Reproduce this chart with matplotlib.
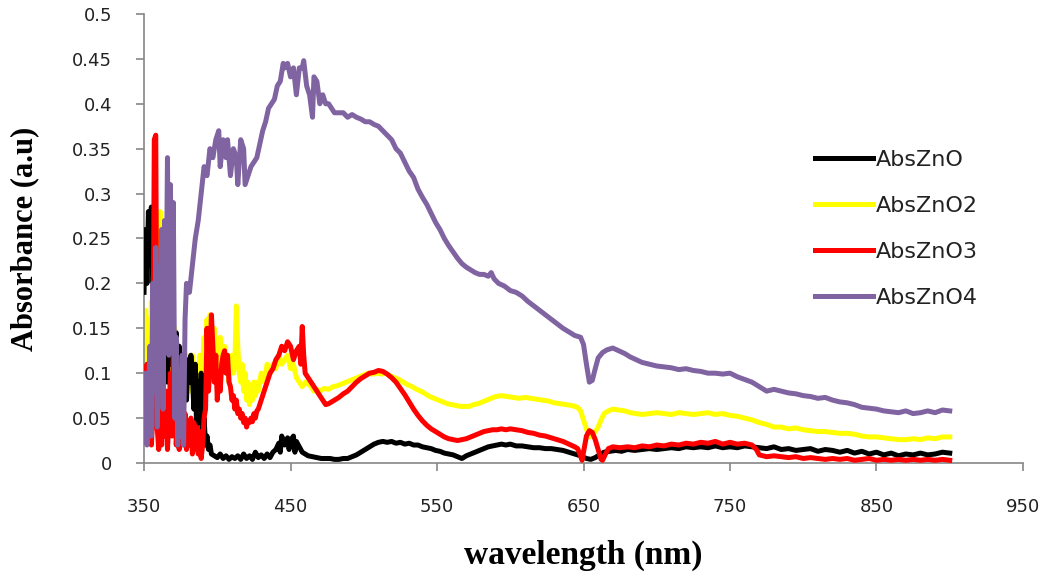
import matplotlib
matplotlib.use("Agg")
from matplotlib import pyplot as plt

# (wavelength nm, absorbance)
abs_zno = [
    (350, 0.19), (351, 0.26), (352, 0.20), (353, 0.28), (354, 0.22), (355, 0.285),
    (356, 0.19), (357, 0.17), (358, 0.14), (359, 0.16), (360, 0.13), (361, 0.17),
    (362, 0.12), (363, 0.15), (364, 0.10), (365, 0.14), (366, 0.09), (367, 0.145),
    (368, 0.11), (369, 0.14), (370, 0.12), (371, 0.08), (372, 0.145), (373, 0.10),
    (374, 0.13), (375, 0.07), (376, 0.12), (377, 0.10), (378, 0.11), (379, 0.07),
    (380, 0.115), (381, 0.09), (382, 0.12), (383, 0.10), (384, 0.06), (385, 0.11),
    (386, 0.03), (387, 0.09), (388, 0.045), (389, 0.10), (390, 0.03), (391, 0.05),
    (392, 0.02), (393, 0.03), (394, 0.015), (395, 0.02), (396, 0.01), (398, 0.008),
    (400, 0.006), (402, 0.01), (404, 0.005), (406, 0.008), (408, 0.004), (410, 0.007),
    (412, 0.005), (414, 0.008), (416, 0.004), (418, 0.01), (420, 0.005), (422, 0.008),
    (424, 0.004), (426, 0.012), (428, 0.006), (430, 0.009), (432, 0.005), (434, 0.01),
    (436, 0.006), (438, 0.012), (440, 0.015), (442, 0.022), (443, 0.012), (444, 0.03),
    (446, 0.02), (448, 0.028), (449, 0.015), (450, 0.025), (452, 0.03), (453, 0.012),
    (454, 0.024), (456, 0.018), (458, 0.012), (460, 0.01), (462, 0.008), (465, 0.007),
    (468, 0.006), (471, 0.005), (474, 0.005), (477, 0.005), (480, 0.004), (483, 0.004),
    (486, 0.005), (489, 0.005), (492, 0.007), (495, 0.009), (498, 0.012), (501, 0.015),
    (504, 0.018), (507, 0.021), (510, 0.023), (513, 0.024), (516, 0.023), (519, 0.024),
    (522, 0.022), (525, 0.023), (528, 0.021), (531, 0.022), (534, 0.02), (537, 0.02),
    (540, 0.018), (543, 0.017), (546, 0.016), (549, 0.014), (552, 0.013), (555, 0.011),
    (558, 0.01), (561, 0.009), (564, 0.007), (567, 0.005), (570, 0.008), (573, 0.01),
    (576, 0.012), (579, 0.014), (582, 0.016), (585, 0.018), (588, 0.019), (591, 0.02),
    (594, 0.021), (597, 0.02), (600, 0.021), (604, 0.019), (608, 0.019), (612, 0.018),
    (616, 0.017), (620, 0.017), (624, 0.016), (628, 0.016), (632, 0.015), (636, 0.014),
    (640, 0.012), (644, 0.01), (648, 0.008), (652, 0.005), (655, 0.004), (658, 0.006),
    (661, 0.009), (664, 0.012), (668, 0.013), (672, 0.014), (676, 0.013), (680, 0.015),
    (685, 0.014), (690, 0.015), (695, 0.016), (700, 0.015), (705, 0.016), (710, 0.017),
    (715, 0.016), (720, 0.018), (725, 0.017), (730, 0.018), (735, 0.017), (740, 0.019),
    (745, 0.017), (750, 0.018), (755, 0.017), (760, 0.019), (765, 0.018), (770, 0.017),
    (775, 0.016), (780, 0.018), (785, 0.015), (790, 0.016), (795, 0.014), (800, 0.015),
    (805, 0.016), (810, 0.013), (815, 0.015), (820, 0.014), (825, 0.012), (830, 0.014),
    (835, 0.011), (840, 0.013), (845, 0.01), (850, 0.012), (855, 0.009), (860, 0.011),
    (865, 0.008), (870, 0.01), (875, 0.009), (880, 0.011), (885, 0.009), (890, 0.01),
    (895, 0.012), (900, 0.011),
]

abs_zno2 = [
    (350, 0.10), (351, 0.17), (352, 0.12), (353, 0.16), (354, 0.11), (355, 0.18),
    (356, 0.13), (357, 0.22), (358, 0.15), (359, 0.25), (360, 0.17), (361, 0.28),
    (362, 0.20), (363, 0.16), (364, 0.18), (365, 0.12), (366, 0.17), (367, 0.10),
    (368, 0.14), (369, 0.16), (370, 0.11), (371, 0.15), (372, 0.09), (373, 0.13),
    (374, 0.10), (375, 0.12), (376, 0.07), (377, 0.12), (378, 0.10), (379, 0.12),
    (380, 0.09), (381, 0.11), (382, 0.08), (383, 0.12), (384, 0.10), (385, 0.06),
    (386, 0.11), (387, 0.09), (388, 0.12), (389, 0.085), (390, 0.11), (391, 0.14),
    (392, 0.12), (393, 0.16), (394, 0.13), (395, 0.165), (396, 0.14), (397, 0.12),
    (398, 0.15), (399, 0.10), (400, 0.13), (401, 0.11), (402, 0.14), (403, 0.10),
    (404, 0.12), (405, 0.13), (406, 0.10), (407, 0.12), (408, 0.09), (409, 0.11),
    (410, 0.12), (411, 0.10), (412, 0.11), (413, 0.175), (414, 0.13), (415, 0.10),
    (416, 0.09), (417, 0.11), (418, 0.08), (419, 0.10), (420, 0.07), (421, 0.09),
    (422, 0.065), (423, 0.085), (424, 0.07), (425, 0.09), (426, 0.075), (427, 0.09),
    (428, 0.08), (430, 0.10), (432, 0.09), (434, 0.11), (436, 0.10), (438, 0.11),
    (440, 0.105), (442, 0.12), (444, 0.11), (446, 0.115), (448, 0.12), (450, 0.105),
    (452, 0.11), (454, 0.095), (456, 0.09), (458, 0.085), (460, 0.09), (462, 0.088),
    (464, 0.085), (466, 0.08), (468, 0.082), (470, 0.08), (473, 0.083), (476, 0.082),
    (479, 0.085), (482, 0.086), (485, 0.088), (488, 0.09), (491, 0.092), (494, 0.094),
    (497, 0.096), (500, 0.098), (503, 0.1), (506, 0.099), (509, 0.1), (512, 0.099),
    (515, 0.1), (518, 0.097), (521, 0.095), (524, 0.093), (527, 0.09), (530, 0.087),
    (533, 0.085), (536, 0.082), (539, 0.08), (542, 0.077), (545, 0.074), (548, 0.072),
    (551, 0.07), (554, 0.068), (557, 0.066), (560, 0.065), (563, 0.064), (566, 0.063),
    (569, 0.063), (572, 0.063), (575, 0.065), (578, 0.066), (581, 0.068), (584, 0.07),
    (587, 0.072), (590, 0.074), (594, 0.075), (598, 0.074), (602, 0.073), (606, 0.072),
    (610, 0.073), (614, 0.072), (618, 0.071), (622, 0.07), (626, 0.069), (630, 0.067),
    (634, 0.066), (638, 0.065), (642, 0.064), (646, 0.062), (648, 0.058), (650, 0.048),
    (652, 0.038), (654, 0.029), (656, 0.03), (658, 0.035), (660, 0.04), (662, 0.048),
    (664, 0.055), (667, 0.058), (670, 0.06), (674, 0.059), (678, 0.058), (682, 0.056),
    (686, 0.055), (690, 0.054), (695, 0.055), (700, 0.056), (705, 0.055), (710, 0.054),
    (715, 0.056), (720, 0.055), (725, 0.054), (730, 0.055), (735, 0.056), (740, 0.054),
    (745, 0.055), (750, 0.053), (755, 0.052), (760, 0.05), (765, 0.048), (770, 0.045),
    (775, 0.043), (780, 0.04), (785, 0.04), (790, 0.038), (795, 0.039), (800, 0.037),
    (805, 0.036), (810, 0.035), (815, 0.035), (820, 0.034), (825, 0.033), (830, 0.033),
    (835, 0.032), (840, 0.03), (845, 0.029), (850, 0.029), (855, 0.028), (860, 0.027),
    (865, 0.026), (870, 0.026), (875, 0.027), (880, 0.026), (885, 0.028), (890, 0.027),
    (895, 0.029), (900, 0.029),
]

abs_zno3 = [
    (350, 0.10), (351, 0.07), (352, 0.11), (353, 0.04), (354, 0.09), (355, 0.02),
    (356, 0.05), (357, 0.36), (358, 0.365), (359, 0.04), (360, 0.015), (361, 0.06),
    (362, 0.02), (363, 0.09), (364, 0.03), (365, 0.08), (366, 0.015), (367, 0.05),
    (368, 0.10), (369, 0.03), (370, 0.12), (371, 0.09), (372, 0.02), (373, 0.05),
    (374, 0.015), (375, 0.055), (376, 0.045), (377, 0.02), (378, 0.055), (379, 0.015),
    (380, 0.04), (381, 0.02), (382, 0.05), (383, 0.01), (384, 0.045), (385, 0.015),
    (386, 0.04), (387, 0.01), (388, 0.035), (389, 0.005), (390, 0.02), (391, 0.05),
    (392, 0.06), (393, 0.15), (394, 0.08), (395, 0.11), (396, 0.165), (397, 0.13),
    (398, 0.09), (399, 0.12), (400, 0.07), (401, 0.10), (402, 0.08), (403, 0.11),
    (404, 0.12), (405, 0.125), (406, 0.10), (407, 0.12), (408, 0.09), (409, 0.085),
    (410, 0.07), (411, 0.075), (412, 0.06), (413, 0.07), (414, 0.055), (415, 0.06),
    (416, 0.05), (417, 0.055), (418, 0.045), (419, 0.05), (420, 0.04), (421, 0.047),
    (422, 0.045), (423, 0.05), (424, 0.046), (425, 0.055), (426, 0.05), (427, 0.058),
    (428, 0.06), (430, 0.07), (432, 0.08), (434, 0.09), (436, 0.1), (438, 0.105),
    (440, 0.115), (442, 0.12), (444, 0.13), (446, 0.125), (448, 0.135), (450, 0.13),
    (452, 0.115), (454, 0.125), (456, 0.13), (457, 0.11), (458, 0.152), (459, 0.12),
    (460, 0.1), (462, 0.095), (464, 0.09), (466, 0.085), (468, 0.08), (470, 0.075),
    (472, 0.07), (474, 0.065), (476, 0.066), (478, 0.068), (480, 0.07), (483, 0.073),
    (486, 0.077), (489, 0.08), (492, 0.085), (495, 0.09), (498, 0.094), (501, 0.097),
    (504, 0.1), (507, 0.101), (510, 0.103), (513, 0.102), (516, 0.099), (519, 0.095),
    (522, 0.09), (525, 0.083), (528, 0.076), (531, 0.068), (534, 0.06), (537, 0.053),
    (540, 0.047), (543, 0.042), (546, 0.038), (549, 0.035), (552, 0.032), (555, 0.029),
    (558, 0.027), (561, 0.026), (564, 0.025), (567, 0.026), (570, 0.027), (573, 0.029),
    (576, 0.031), (579, 0.033), (582, 0.035), (585, 0.036), (588, 0.037), (591, 0.037),
    (594, 0.038), (597, 0.037), (600, 0.038), (604, 0.037), (608, 0.036), (612, 0.034),
    (616, 0.033), (620, 0.031), (624, 0.03), (628, 0.028), (632, 0.026), (636, 0.024),
    (640, 0.021), (644, 0.018), (646, 0.016), (648, 0.008), (649, 0.003), (650, 0.012),
    (652, 0.03), (654, 0.036), (656, 0.034), (658, 0.026), (660, 0.015), (662, 0.004),
    (663, 0.003), (665, 0.01), (667, 0.016), (670, 0.018), (675, 0.017), (680, 0.018),
    (685, 0.017), (690, 0.019), (695, 0.018), (700, 0.02), (705, 0.019), (710, 0.021),
    (715, 0.02), (720, 0.022), (725, 0.021), (730, 0.023), (735, 0.022), (740, 0.024),
    (745, 0.021), (750, 0.023), (755, 0.021), (760, 0.022), (765, 0.02), (768, 0.015),
    (770, 0.009), (775, 0.007), (780, 0.008), (785, 0.007), (790, 0.006), (795, 0.007),
    (800, 0.005), (805, 0.006), (810, 0.005), (815, 0.004), (820, 0.005), (825, 0.004),
    (830, 0.005), (835, 0.003), (840, 0.004), (845, 0.005), (850, 0.003), (855, 0.004),
    (860, 0.003), (865, 0.004), (870, 0.003), (875, 0.004), (880, 0.003), (885, 0.004),
    (890, 0.003), (895, 0.004), (900, 0.003),
]

abs_zno4 = [
    (350, 0.03), (351, 0.10), (352, 0.02), (353, 0.06), (354, 0.13), (355, 0.03),
    (356, 0.20), (357, 0.08), (358, 0.24), (359, 0.04), (360, 0.22), (361, 0.12),
    (362, 0.26), (363, 0.06), (364, 0.27), (365, 0.15), (366, 0.34), (367, 0.12),
    (368, 0.31), (369, 0.18), (370, 0.29), (371, 0.05), (372, 0.14), (373, 0.02),
    (374, 0.10), (375, 0.03), (376, 0.12), (377, 0.02), (378, 0.16), (379, 0.20),
    (381, 0.19), (383, 0.22), (385, 0.25), (387, 0.27), (389, 0.30), (391, 0.33),
    (393, 0.32), (395, 0.35), (397, 0.34), (399, 0.36), (401, 0.37), (402, 0.33),
    (404, 0.36), (406, 0.34), (407, 0.36), (409, 0.32), (411, 0.35), (413, 0.34),
    (414, 0.31), (416, 0.36), (418, 0.35), (419, 0.31), (421, 0.32), (423, 0.33),
    (425, 0.335), (427, 0.34), (429, 0.355), (431, 0.37), (433, 0.38), (435, 0.395),
    (437, 0.40), (439, 0.405), (441, 0.42), (443, 0.425), (445, 0.445), (446, 0.44),
    (448, 0.445), (450, 0.43), (452, 0.44), (454, 0.41), (456, 0.44), (458, 0.44),
    (459, 0.448), (461, 0.42), (463, 0.41), (465, 0.385), (466, 0.43), (468, 0.425),
    (470, 0.40), (472, 0.41), (474, 0.40), (476, 0.40), (478, 0.395), (480, 0.39),
    (483, 0.39), (486, 0.39), (489, 0.385), (492, 0.388), (495, 0.385), (498, 0.383),
    (501, 0.38), (504, 0.38), (507, 0.377), (510, 0.375), (513, 0.37), (516, 0.365),
    (519, 0.36), (522, 0.35), (525, 0.345), (528, 0.335), (531, 0.325), (534, 0.318),
    (537, 0.305), (540, 0.296), (543, 0.288), (546, 0.278), (549, 0.268), (552, 0.26),
    (555, 0.25), (558, 0.242), (561, 0.235), (564, 0.228), (567, 0.222), (570, 0.218),
    (573, 0.215), (576, 0.212), (579, 0.21), (582, 0.21), (585, 0.208), (587, 0.212),
    (589, 0.205), (592, 0.2), (596, 0.197), (600, 0.192), (604, 0.19), (608, 0.186),
    (612, 0.18), (616, 0.175), (620, 0.17), (624, 0.165), (628, 0.16), (632, 0.155),
    (636, 0.15), (640, 0.146), (644, 0.142), (648, 0.14), (650, 0.132), (652, 0.11),
    (654, 0.09), (656, 0.092), (658, 0.105), (660, 0.117), (663, 0.123), (666, 0.126),
    (670, 0.128), (674, 0.125), (678, 0.122), (682, 0.118), (686, 0.115), (690, 0.112),
    (695, 0.11), (700, 0.108), (705, 0.107), (710, 0.106), (715, 0.104), (720, 0.105),
    (725, 0.103), (730, 0.102), (735, 0.1), (740, 0.1), (745, 0.099), (750, 0.1),
    (755, 0.096), (760, 0.093), (765, 0.09), (770, 0.085), (775, 0.08), (780, 0.082),
    (785, 0.08), (790, 0.078), (795, 0.077), (800, 0.075), (805, 0.074), (810, 0.072),
    (815, 0.073), (820, 0.07), (825, 0.068), (830, 0.067), (835, 0.065), (840, 0.062),
    (845, 0.061), (850, 0.06), (855, 0.058), (860, 0.057), (865, 0.056), (870, 0.058),
    (875, 0.055), (880, 0.056), (885, 0.058), (890, 0.056), (895, 0.059), (900, 0.058),
]

x_ticks = [350, 450, 550, 650, 750, 850, 950]
y_ticks = [0, 0.05, 0.1, 0.15, 0.2, 0.25, 0.3, 0.35, 0.4, 0.45, 0.5]
y_tick_labels = ["0", "0.05", "0.1", "0.15", "0.2", "0.25", "0.3", "0.35",
                 "0.4", "0.45", "0.5"]

series = [
    ("AbsZnO", abs_zno, "#000000", 3),
    ("AbsZnO2", abs_zno2, "#ffff00", 2),
    ("AbsZnO3", abs_zno3, "#ff0000", 4),
    ("AbsZnO4", abs_zno4, "#8064a2", 5),
]


def main():
    fig = plt.figure(figsize=(10.49, 5.78), dpi=100)
    ax = fig.add_axes([0.1373, 0.199, 0.8379, 0.7768])

    for name, data, color, z in series:
        wl = [p[0] for p in data]
        ab = [p[1] for p in data]
        ax.plot(wl, ab, color=color, lw=3.6, label=name, zorder=z)

    ax.set_xlim(350, 950)
    ax.set_ylim(0, 0.5)
    ax.set_xticks(x_ticks)
    ax.set_yticks(y_ticks, y_tick_labels)

    for side in ("top", "right"):
        ax.spines[side].set_visible(False)
    for side in ("left", "bottom"):
        ax.spines[side].set_color("#868686")
        ax.spines[side].set_linewidth(1.2)
    ax.tick_params(axis="both", direction="out", length=6, width=1.2,
                   color="#868686", labelsize=13, labelcolor="#222222")
    ax.tick_params(axis="x", pad=19)
    ax.tick_params(axis="y", pad=17)

    ax.set_xlabel("wavelength (nm)", fontsize=24, fontweight="bold",
                  family="Liberation Serif", labelpad=17)
    ax.set_ylabel("Absorbance (a.u)", fontsize=22, fontweight="bold",
                  family="Liberation Serif", labelpad=24)

    handles, labels = ax.get_legend_handles_labels()
    fig.legend(handles, labels, loc="upper left", bbox_to_anchor=(0.758, 0.775),
               frameon=False, fontsize=16, handlelength=2.6, handletextpad=0.15,
               labelspacing=1.17, labelcolor="#222222")

    fig.savefig("out.png", dpi=100, facecolor="white")


if __name__ == "__main__":
    main()
